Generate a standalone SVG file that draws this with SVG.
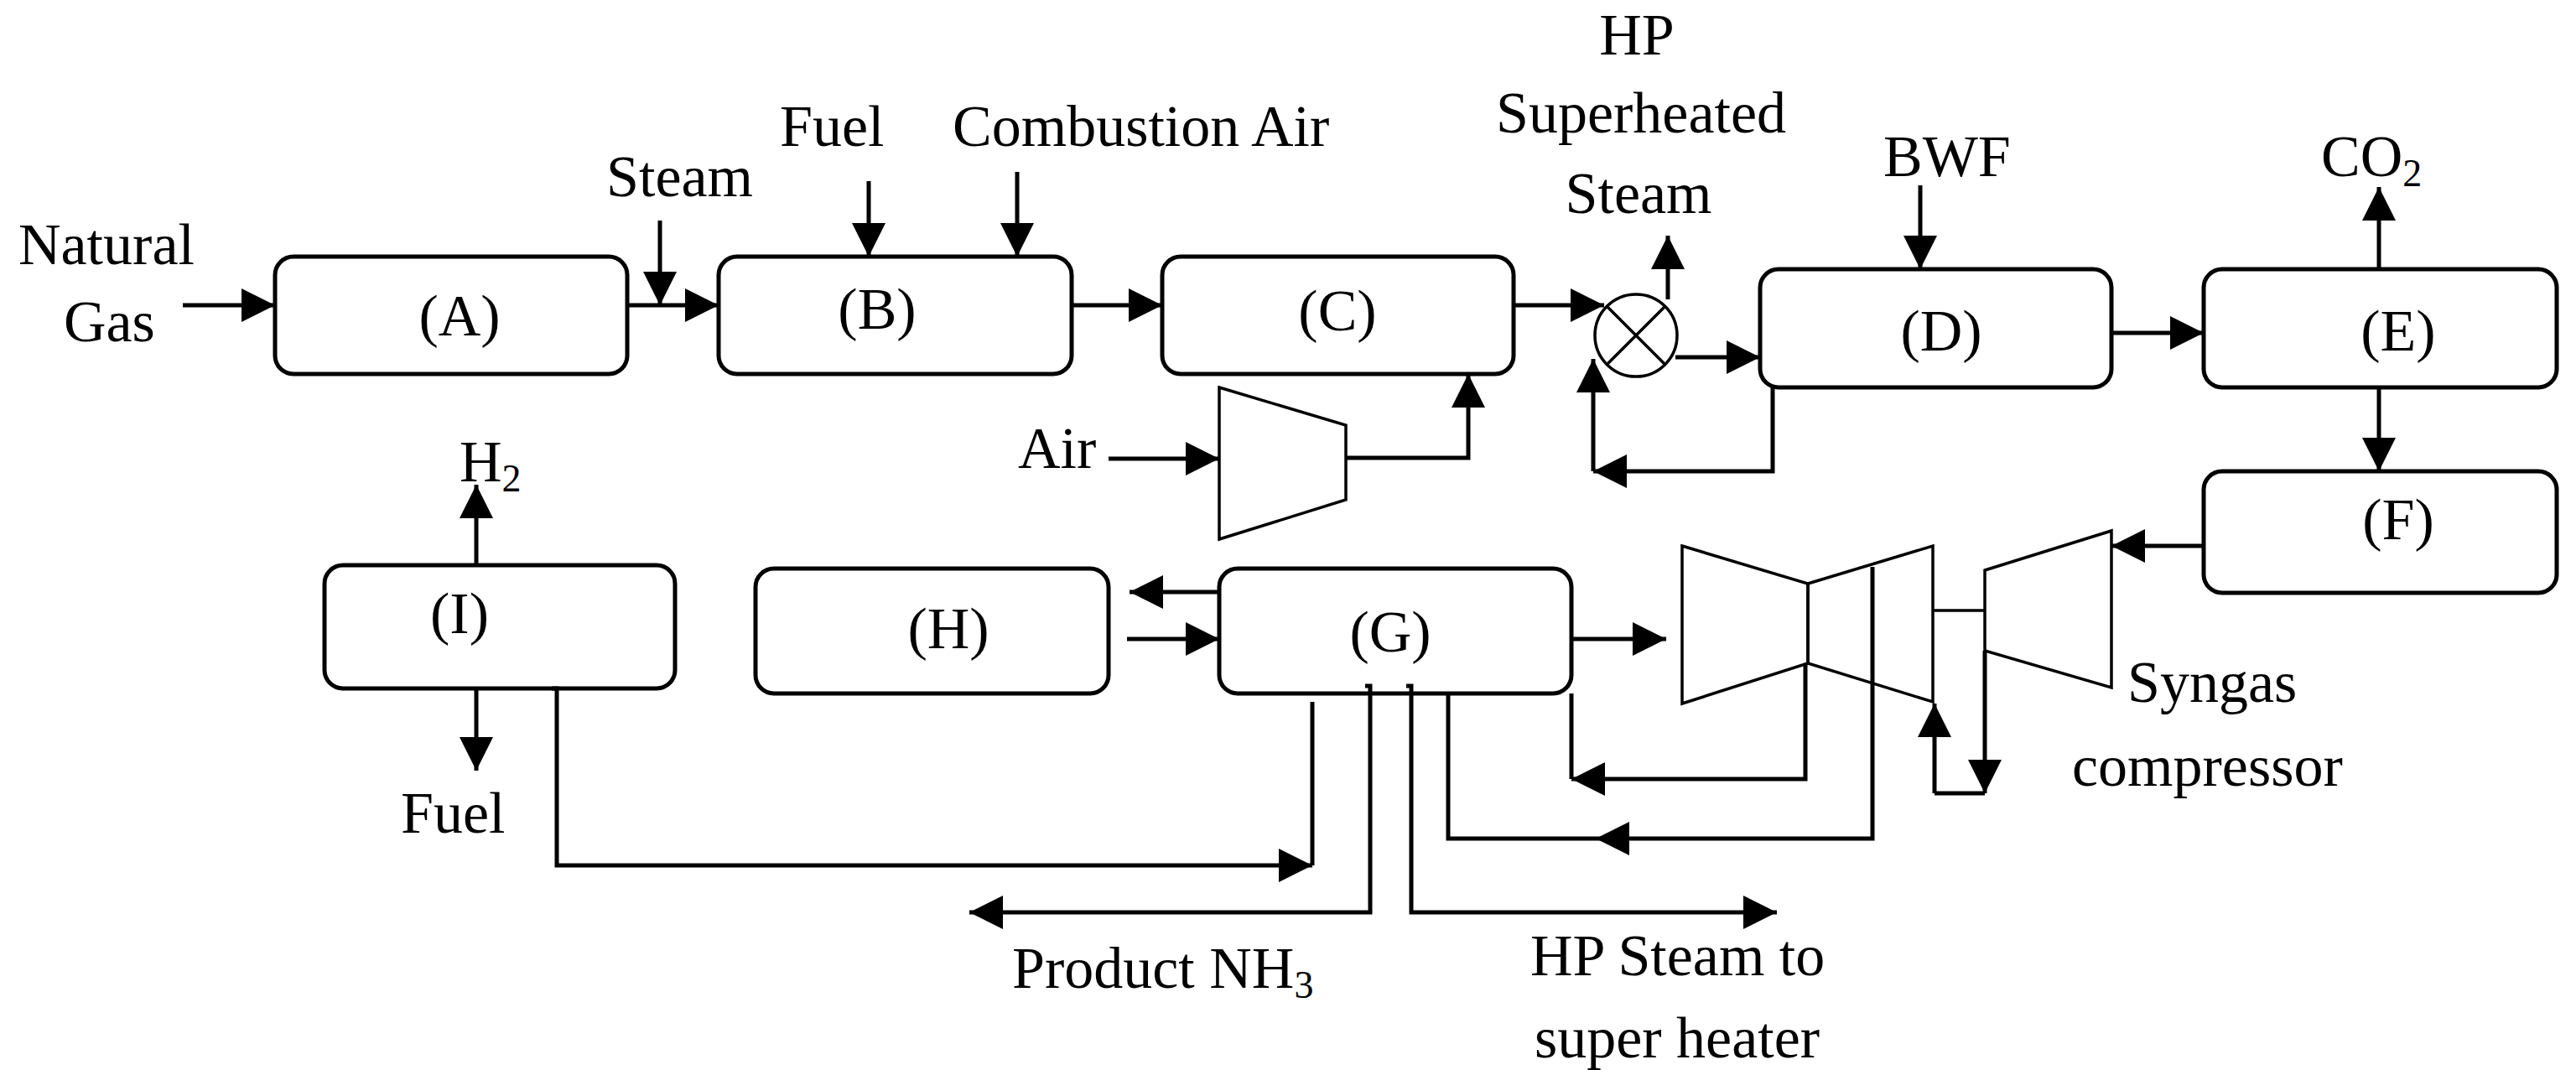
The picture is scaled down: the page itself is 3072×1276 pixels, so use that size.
<svg xmlns="http://www.w3.org/2000/svg" width="3072" height="1276" viewBox="0 0 3072 1276">
<style>
text{font-family:"Liberation Serif","Times New Roman",serif;font-size:70px;fill:#000}
.box{fill:#fff;stroke:#000;stroke-width:5}
.lab{text-anchor:middle}
.ln{fill:none;stroke:#000;stroke-width:5}
.thin{fill:none;stroke:#000;stroke-width:3.5}
</style>
<defs>
<marker id="ah" markerUnits="userSpaceOnUse" markerWidth="42" markerHeight="40" refX="40" refY="20" orient="auto">
<path d="M0,0 L40,20 L0,40 Z" fill="#000"/>
</marker>
</defs>
<g id="nodeA"><rect class="box" x="328" y="306" width="420" height="140" rx="22"/><text class="lab" x="548" y="400">(A)</text></g>
<g id="nodeB"><rect class="box" x="857" y="306" width="421" height="140" rx="22"/><text class="lab" x="1046" y="392">(B)</text></g>
<g id="nodeC"><rect class="box" x="1386" y="306" width="419" height="140" rx="22"/><text class="lab" x="1595" y="394">(C)</text></g>
<g id="nodeD"><rect class="box" x="2099" y="321" width="419" height="141" rx="22"/><text class="lab" x="2315" y="418">(D)</text></g>
<g id="nodeE"><rect class="box" x="2628" y="321" width="421" height="141" rx="22"/><text class="lab" x="2860" y="418">(E)</text></g>
<g id="nodeF"><rect class="box" x="2628" y="562" width="421" height="145" rx="22"/><text class="lab" x="2860" y="643">(F)</text></g>
<g id="nodeG"><rect class="box" x="1454" y="678" width="420" height="149" rx="22"/><text class="lab" x="1658" y="777">(G)</text></g>
<g id="nodeH"><rect class="box" x="901" y="678" width="421" height="149" rx="22"/><text class="lab" x="1131" y="773">(H)</text></g>
<g id="nodeI"><rect class="box" x="387" y="674" width="418" height="147" rx="22"/><text class="lab" x="548" y="755">(I)</text></g>
<g id="mixer"><circle class="thin" cx="1951" cy="400" r="49"/><path class="thin" d="M1916,365 L1986,435 M1986,365 L1916,435"/></g>
<g id="airCompressor"><path class="thin" d="M1454,462 L1605,507 L1605,596 L1454,643 Z"/></g>
<g id="turbine1"><path class="thin" d="M2006,651 L2156,696 L2156,791 L2006,839 Z"/></g>
<g id="turbine2"><path class="thin" d="M2156,696 L2305,651 L2305,837 L2156,791 Z"/></g>
<g id="syngasCompressor"><path class="thin" d="M2367,680 L2518,633 L2518,820 L2367,776 Z"/></g>
<g id="connectors">
<path class="ln" d="M218,364 H328" marker-end="url(#ah)"/>
<path class="ln" d="M748,364 H857" marker-end="url(#ah)"/>
<path class="ln" d="M787,263 V364" marker-end="url(#ah)"/>
<path class="ln" d="M1036,216 V306" marker-end="url(#ah)"/>
<path class="ln" d="M1213,205 V306" marker-end="url(#ah)"/>
<path class="ln" d="M1278,364 H1386" marker-end="url(#ah)"/>
<path class="ln" d="M1322,547 H1454" marker-end="url(#ah)"/>
<path class="ln" d="M1605,546 H1751 V446" marker-end="url(#ah)"/>
<path class="ln" d="M1805,364 H1913" marker-end="url(#ah)"/>
<path class="ln" d="M1989,357 V281" marker-end="url(#ah)"/>
<path class="ln" d="M1998,426 H2099" marker-end="url(#ah)"/>
<path class="ln" d="M2114,462 V562 H1900" marker-end="url(#ah)"/>
<path class="ln" d="M1900,562 V428" marker-end="url(#ah)"/>
<path class="ln" d="M2290,221 V321" marker-end="url(#ah)"/>
<path class="ln" d="M2518,397 H2628" marker-end="url(#ah)"/>
<path class="ln" d="M2837,321 V223" marker-end="url(#ah)"/>
<path class="ln" d="M2837,462 V562" marker-end="url(#ah)"/>
<path class="ln" d="M2628,651 H2518" marker-end="url(#ah)"/>
<path class="ln" d="M568,674 V578" marker-end="url(#ah)"/>
<path class="ln" d="M568,821 V919" marker-end="url(#ah)"/>
<path class="ln" d="M658,821 H664 V1032 H1565" marker-end="url(#ah)"/>
<path class="ln" d="M1565,837 V1032"/>
<path class="ln" d="M1454,706 H1347" marker-end="url(#ah)"/>
<path class="ln" d="M1344,762 H1454" marker-end="url(#ah)"/>
<path class="ln" d="M1628,818 H1634 V1088 H1156" marker-end="url(#ah)"/>
<path class="ln" d="M1677,818 H1683 V1088 H2119" marker-end="url(#ah)"/>
<path class="ln" d="M1874,762 H1987" marker-end="url(#ah)"/>
<path class="ln" d="M2153,791 V929 H1874" marker-end="url(#ah)"/>
<path class="ln" d="M1874,827 V929"/>
<path class="ln" d="M2233,676 V1000 H1903" marker-end="url(#ah)"/>
<path class="ln" d="M1903,1000 H1727 V827"/>
<path class="ln" d="M2307,946 V839" marker-end="url(#ah)"/>
<path class="ln" d="M2307,946 H2367"/>
<path class="ln" d="M2367,776 V946" marker-end="url(#ah)"/>
<path class="thin" d="M2305,728 H2367"/>
</g>
<g id="labels">
<text x="22" y="315">Natural</text>
<text x="76" y="407">Gas</text>
<text x="723" y="234">Steam</text>
<text x="930" y="174">Fuel</text>
<text x="1136" y="174">Combustion Air</text>
<text x="1952" y="65" text-anchor="middle">HP</text>
<text x="1957" y="158" text-anchor="middle">Superheated</text>
<text x="1954" y="254" text-anchor="middle">Steam</text>
<text x="2246" y="210">BWF</text>
<text x="2768" y="210">CO<tspan font-size="46" dy="12">2</tspan></text>
<text x="1214" y="558">Air</text>
<text x="548" y="574">H<tspan font-size="46" dy="12">2</tspan></text>
<text x="478" y="993">Fuel</text>
<text x="1207" y="1178">Product NH<tspan font-size="46" dy="12">3</tspan></text>
<text x="1825" y="1163">HP Steam to</text>
<text x="1830" y="1261">super heater</text>
<text x="2537" y="837">Syngas</text>
<text x="2471" y="937">compressor</text>
</g>
</svg>
